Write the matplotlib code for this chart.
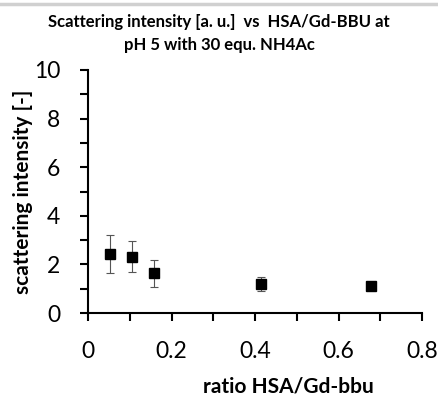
import matplotlib
matplotlib.use("Agg")
import matplotlib.pyplot as plt
from matplotlib.ticker import MultipleLocator

plt.rcParams['font.family'] = ['Lato', 'DejaVu Sans']

# data
ratio = [0.053, 0.105, 0.158, 0.415, 0.678]
intensity = [2.42, 2.32, 1.64, 1.20, 1.10]
err = [0.78, 0.65, 0.55, 0.30, 0.15]

x_ticks = [0, 0.2, 0.4, 0.6, 0.8]
y_ticks = [0, 2, 4, 6, 8, 10]

fig = plt.figure(figsize=(4.38, 3.96), dpi=100)
ax = fig.add_axes([88 / 438, 1 - 313 / 396, 334 / 438, 243 / 396])

ax.errorbar(ratio, intensity, yerr=err, fmt='s', color='black', markersize=7,
            ecolor='#555555', elinewidth=0.8, capsize=3, capthick=0.8)

ax.set_xlim(0, 0.8)
ax.set_ylim(0, 10)
ax.set_xticks(x_ticks)
ax.set_xticklabels(['0', '0.2', '0.4', '0.6', '0.8'])
ax.set_yticks(y_ticks)
ax.xaxis.set_minor_locator(MultipleLocator(0.1))
ax.yaxis.set_minor_locator(MultipleLocator(1))
ax.tick_params(which='both', direction='out', length=6, width=1.5, labelsize=16.5)
ax.tick_params(axis='x', pad=14)
ax.tick_params(axis='y', pad=14)
ax.spines['top'].set_visible(False)
ax.spines['right'].set_visible(False)
ax.spines['left'].set_linewidth(1.5)
ax.spines['bottom'].set_linewidth(1.5)

ax.set_xlabel('ratio HSA/Gd-bbu', fontsize=15, fontweight='bold')
ax.xaxis.set_label_coords(0.6, -0.26)
ax.set_ylabel('scattering intensity [-]', fontsize=15, fontweight='bold')
ax.yaxis.set_label_coords(-0.165, 0.5)

fig.text(0.5, 0.965, 'Scattering intensity [a. u.]  vs  HSA/Gd-BBU at\npH 5 with 30 equ. NH4Ac',
         ha='center', va='top', fontsize=12, fontweight='bold', linespacing=1.55)

fig.add_artist(plt.Line2D([0, 1], [1 - 3.5 / 396] * 2, color='#d0d0d0', linewidth=2.5))

fig.savefig('out.png', dpi=100)
